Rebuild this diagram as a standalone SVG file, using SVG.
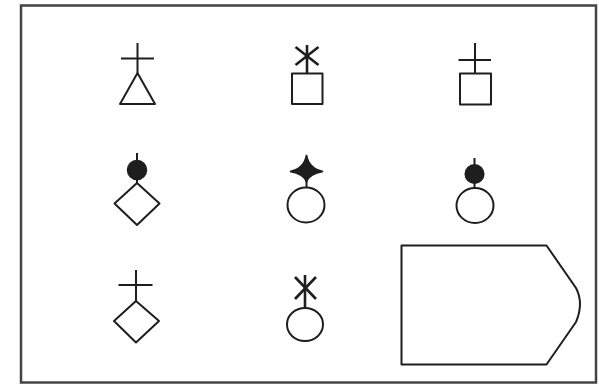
<svg xmlns="http://www.w3.org/2000/svg" width="599" height="385" viewBox="0 0 599 385">
<style>
.s{fill:none;stroke:#1e1e1e;stroke-width:2;stroke-linejoin:round}
.k{fill:none;stroke:#1e1e1e;stroke-width:2.6}
.f{fill:#1e1e1e;stroke:#1e1e1e;stroke-width:1.5}
</style>
<rect x="0" y="0" width="599" height="385" fill="#ffffff"/>
<rect x="21" y="5.5" width="575" height="377" fill="none" stroke="#444444" stroke-width="2.5"/>
<g id="sym1">
<line class="s" x1="137.5" y1="43" x2="137.5" y2="73"/>
<line class="s" x1="121" y1="58.5" x2="154" y2="58.5"/>
<polygon class="s" points="137.5,73 120,104 155,104"/>
</g>
<g id="sym2">
<line class="k" x1="307" y1="45" x2="307" y2="73.5"/>
<line class="k" x1="295.5" y1="47" x2="318.5" y2="65"/>
<line class="k" x1="318.5" y1="47" x2="295.5" y2="65"/>
<rect class="s" x="292" y="73.5" width="30.5" height="30.5"/>
</g>
<g id="sym3">
<line class="s" x1="475" y1="43" x2="475" y2="73.5"/>
<line class="s" x1="458.5" y1="60" x2="491" y2="60"/>
<rect class="s" x="460" y="73.5" width="31" height="31"/>
</g>
<g id="sym4">
<line class="s" x1="137" y1="153" x2="137" y2="183"/>
<circle class="f" cx="137" cy="170" r="9.5"/>
<polygon class="s" points="137,183 114.5,203.5 137,225 159.5,203.5"/>
</g>
<g id="sym5">
<line class="s" x1="306.5" y1="178" x2="306.5" y2="188"/>
<path class="f" d="M306.5,155 Q309,169 323,171.5 Q309,174 306.5,182 Q304,174 290,171.5 Q304,169 306.5,155 Z"/>
<ellipse class="s" cx="306" cy="205" rx="18.5" ry="17.5"/>
</g>
<g id="sym6">
<line class="s" x1="474.5" y1="158" x2="474.5" y2="188.5"/>
<circle class="f" cx="474.5" cy="174" r="9.3"/>
<ellipse class="s" cx="475" cy="205.5" rx="18.5" ry="17.5"/>
</g>
<g id="sym7">
<line class="s" x1="136" y1="270" x2="136" y2="301"/>
<line class="s" x1="118.5" y1="285" x2="152.5" y2="285"/>
<polygon class="s" points="136,301 114,321 136,342.5 159,321"/>
</g>
<g id="sym8">
<line class="k" x1="305" y1="275" x2="305" y2="308"/>
<line class="k" x1="295" y1="277" x2="316" y2="299"/>
<line class="k" x1="316" y1="277" x2="295" y2="299"/>
<ellipse class="s" cx="305" cy="324.5" rx="18" ry="16.5"/>
</g>
<g id="shape9">
<path class="s" d="M401.5,245.5 L546.5,245.5 L576,288 Q584,303 576,322 L546.5,364.5 L401.5,364.5 Z"/>
</g>
</svg>
